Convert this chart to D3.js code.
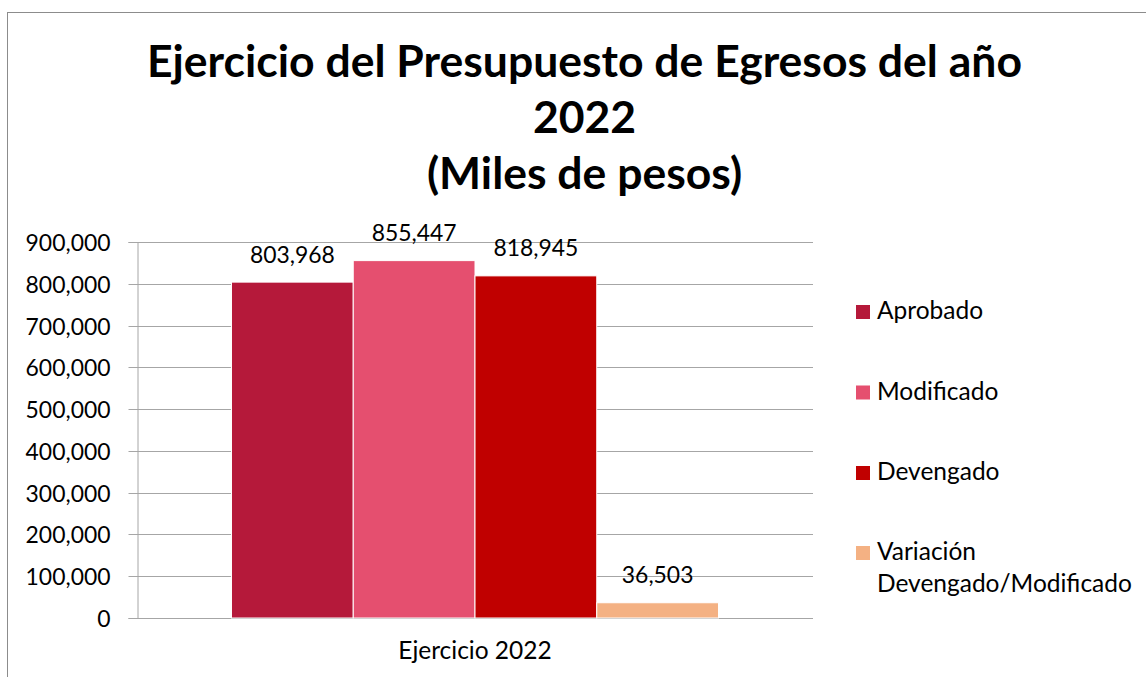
<!DOCTYPE html>
<html>
<head>
<meta charset="utf-8">
<script src="https://cdn.jsdelivr.net/npm/d3@7/dist/d3.min.js"></script>
<style>
  html, body { margin: 0; padding: 0; background: #fff; }
  svg { display: block; }
  text { font-family: Lato, "Noto Sans", sans-serif; fill: #000; }
</style>
</head>
<body>
<svg id="chart" width="1146" height="677"></svg>
<script>
// ---- data ----
const titleLines = ["Ejercicio del Presupuesto de Egresos del año", "2022", "(Miles de pesos)"];
const category = "Ejercicio 2022";
const seriesNames = ["Aprobado", "Modificado", "Devengado", "Variación Devengado/Modificado"];
const legendLines = [["Aprobado"], ["Modificado"], ["Devengado"], ["Variación", "Devengado/Modificado"]];
const seriesValues = [803968, 855447, 818945, 36503];
const seriesColors = ["#B5193A", "#E54F6F", "#C00000", "#F4B183"];
const yTicks = [0, 100000, 200000, 300000, 400000, 500000, 600000, 700000, 800000, 900000];

// ---- layout ----
const W = 1146, H = 677;
const plot = { left: 137, right: 813, top: 242, bottom: 618 };
const svg = d3.select("#chart");

// outer border
svg.append("rect").attr("x", 7.5).attr("y", 12.5).attr("width", W).attr("height", H)
  .attr("fill", "none").attr("stroke", "#8c8c8c").attr("stroke-width", 1);

// font fitting helper
function fitSize(str, targetWidth, weight) {
  const t = svg.append("text").attr("font-size", 100).attr("font-weight", weight || "normal").text(str);
  const w = t.node().getComputedTextLength();
  t.remove();
  return 100 * targetWidth / w;
}
const numSize = fitSize("900,000", 85);
const textSize = fitSize("Devengado/Modificado", 255);
const titleSize = fitSize(titleLines[0], 875, "bold");

// title
const titleBaselines = [77, 133, 189];
svg.append("g").selectAll("text").data(titleLines).join("text")
  .attr("x", 584.5).attr("y", (d, i) => titleBaselines[i])
  .attr("text-anchor", "middle").attr("font-weight", "bold")
  .attr("font-size", titleSize).text(d => d);

// scales
const y = d3.scaleLinear().domain([0, 900000]).range([plot.bottom, plot.top]);
const x0 = d3.scaleBand().domain([category]).range([plot.left, plot.right]).paddingInner(0).paddingOuter(0.194);
const x1 = d3.scaleBand().domain(seriesNames).range([0, x0.bandwidth()]).padding(0);
const color = d3.scaleOrdinal().domain(seriesNames).range(seriesColors);
const fmt = d3.format(",");

// gridlines
svg.append("g").selectAll("line").data(yTicks.filter(d => d > 0)).join("line")
  .attr("x1", plot.left).attr("x2", plot.right)
  .attr("y1", d => Math.round(y(d)) + 0.5).attr("y2", d => Math.round(y(d)) + 0.5)
  .attr("stroke", "#a6a6a6").attr("stroke-width", 1);

// y axis
const yAxis = d3.axisLeft(y).tickValues(yTicks).tickFormat(fmt).tickSize(9).tickPadding(18);
const gy = svg.append("g").attr("transform", `translate(${plot.left + 0.5},0)`).call(yAxis);
gy.select(".domain").attr("stroke", "#a6a6a6");
gy.selectAll(".tick line").attr("stroke", "#a6a6a6");
gy.selectAll(".tick").attr("transform", d => `translate(0,${Math.round(y(d)) + 0.5})`);
gy.selectAll(".tick text").attr("font-size", numSize).attr("font-family", "Lato, 'Noto Sans', sans-serif")
  .attr("fill", "#000").attr("dy", "0.36em");

// x axis baseline
svg.append("line").attr("x1", plot.left).attr("x2", plot.right)
  .attr("y1", Math.round(y(0)) + 0.5).attr("y2", Math.round(y(0)) + 0.5)
  .attr("stroke", "#a6a6a6");

// bars
const data = seriesNames.map((s, i) => ({ name: s, value: seriesValues[i] }));
const gBars = svg.append("g").attr("transform", `translate(${x0(category)},0)`);
gBars.selectAll("rect").data(data).join("rect")
  .attr("x", d => x1(d.name))
  .attr("y", d => y(d.value))
  .attr("width", x1.bandwidth())
  .attr("height", d => y(0) - y(d.value))
  .attr("fill", d => color(d.name))
  .attr("stroke", "#fff").attr("stroke-width", 1);

// value labels
gBars.selectAll("text").data(data).join("text")
  .attr("x", d => x1(d.name) + x1.bandwidth() / 2)
  .attr("y", d => y(d.value) - 19.5)
  .attr("text-anchor", "middle").attr("font-size", numSize)
  .text(d => fmt(d.value));

// category label
svg.append("text").attr("x", x0(category) + x0.bandwidth() / 2).attr("y", 659)
  .attr("text-anchor", "middle").attr("font-size", textSize).text(category);

// legend
const legendY = [312, 392.5, 473, 553];
const lg = svg.append("g").selectAll("g").data(seriesNames).join("g")
  .attr("transform", (d, i) => `translate(856,${legendY[i]})`);
lg.append("rect").attr("x", 0).attr("y", -7).attr("width", 14).attr("height", 14)
  .attr("fill", d => color(d));
lg.append("text").attr("x", 21).attr("y", 7).attr("font-size", textSize)
  .selectAll("tspan").data((d, i) => legendLines[i]).join("tspan")
  .attr("x", 21).attr("dy", (d, i) => i === 0 ? 0 : 32).text(d => d);
</script>
</body>
</html>
